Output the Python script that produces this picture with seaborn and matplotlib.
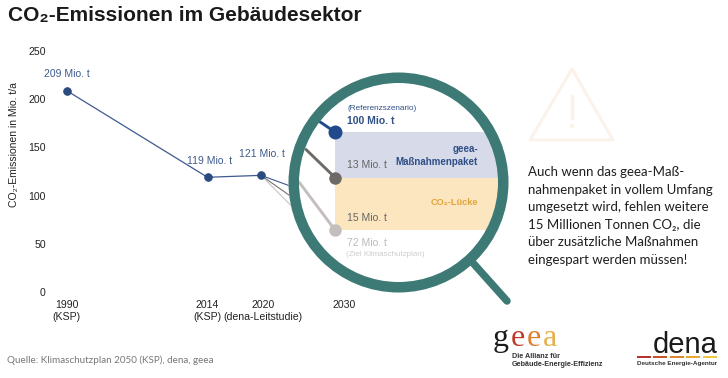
import numpy as np
import pandas as pd
import matplotlib
matplotlib.use("Agg")
import matplotlib.pyplot as plt
from matplotlib.patches import Circle, Polygon, Rectangle
from matplotlib.transforms import ScaledTranslation
import seaborn as sns

# ---- data ----
hist_years = [1990, 2014, 2020]
hist_values = [209, 119, 121]
x_ticks = [1990, 2014, 2020, 2030]
x_labels = ["1990\n(KSP)", "2014\n(KSP)", "2020\n(dena-Leitstudie)", "2030"]
y_ticks = [0, 50, 100, 150, 200, 250]
# thin lines running from 2020 towards the lens
fan_values = [93, 67, 44]
fan_colors = ["#3f5a8e", "#77726e", "#c9c4c0"]
# magnified part
scen_values = [100, 87, 72]
scen_colors = ["#214a8c", "#6e6a66", "#c4bfbc"]
scen_sizes = [14, 12.5, 12.5]
scen_entry_years = [2027.97, 2026.08, 2025.14]
scen_entry_values = [102.9, 95.0, 85.7]
scen_labels = ["100 Mio. t", "13 Mio. t", "15 Mio. t", "72 Mio. t"]
body_lines = ["Auch wenn das geea-Maß-", "nahmenpaket in vollem Umfang", "umgesetzt wird, fehlen weitere",
              "15 Millionen Tonnen CO₂, die", "über zusätzliche Maßnahmen", "eingespart werden müssen!"]
dena_colors = ["#b5352a", "#c8562b", "#e0842f", "#e9a934", "#f0c63f"]
geea_letters = ["g", "e", "e", "a"]
geea_colors = ["#1a1a1a", "#c0392b", "#dd7f2e", "#e3b04a"]

NAVY = "#3f5a8e"
W, H = 728, 378
ARIAL = ["Liberation Sans", "DejaVu Sans"]

sns.set_theme(style="white")
plt.rcParams["font.family"] = ARIAL

fig = plt.figure(figsize=(W / 100, H / 100), dpi=100, facecolor="white")

def rect(l, t, r, b):
    return [l / W, 1 - b / H, (r - l) / W, (b - t) / H]

# piecewise year axis of the original
yr_a = [1987.19, 1990, 2014, 2020, 2030, 2083.11]
px_a = [50, 66.5, 207.5, 261, 335, 728]
fwd = lambda v: np.interp(v, yr_a, px_a)
inv = lambda v: np.interp(v, px_a, yr_a)

ax = fig.add_axes(rect(50, 51, 728, 292), zorder=1)
lens = fig.add_axes(rect(50, 51, 728, 292), zorder=2)
px = fig.add_axes([0, 0, 1, 1], zorder=3)
px.set_xlim(0, W); px.set_ylim(H, 0); px.axis("off")
lens.axis("off")
for a in (ax, lens):
    a.patch.set_alpha(0)
    a.set_xscale("function", functions=(fwd, inv))
    a.set_xlim(yr_a[0], yr_a[-1])

# ---- main axes ----
df = pd.DataFrame({"year": hist_years, "value": hist_values})
sns.lineplot(data=df, x="year", y="value", ax=ax, color=NAVY, lw=0.9, marker="o", ms=5.4,
             mfc="#2a4a80", mec="#2a4a80", errorbar=None, zorder=2)
for v, c in zip(fan_values, fan_colors):
    sns.lineplot(x=[2020, 2030], y=[hist_values[-1], v], ax=ax, color=c, lw=0.8, errorbar=None, zorder=1)
ax.set_ylim(0, 250)
ax.set_xticks(x_ticks, x_labels, fontsize=7.6, color="#222222", linespacing=1.15)
ax.set_yticks(y_ticks, [str(t) for t in y_ticks], fontsize=7.6, color="#222222")
ax.minorticks_off()
ax.tick_params(axis="both", length=0)
ax.tick_params(axis="x", pad=6)
ax.tick_params(axis="y", pad=3)
ax.set_xlabel(""); ax.set_ylabel("")
sns.despine(ax=ax, left=True, bottom=True)
ax.xaxis.get_majorticklabels()[-1].set_transform(
    ax.xaxis.get_majorticklabels()[-1].get_transform() + ScaledTranslation(9 / 100, 0, fig.dpi_scale_trans))
ax.xaxis.get_majorticklabels()[2].set_transform(
    ax.xaxis.get_majorticklabels()[2].get_transform() + ScaledTranslation(2 / 100, 0, fig.dpi_scale_trans))
for yr, v, off in zip(hist_years, hist_values, [(0, 17), (2, 16), (1, 21)]):
    ax.annotate(f"{v} Mio. t", (yr, v), xytext=(off[0] * .72, off[1] * .72), textcoords="offset points",
                ha="center", va="center", fontsize=7.5, color=NAVY)

# ---- lens ----
CX, CY, R_OUT, RING = 398.5, 182.5, 110, 10.5
ax.add_patch(Circle((CX, CY), R_OUT, transform=px.transData, fc="white", ec="none", zorder=5, clip_on=False))
lens.set_ylim(100 - (292 - 132) / 3.5, 100 + (132 - 51) / 3.5)
clip = Circle((CX, CY), R_OUT - RING / 2, transform=px.transData)
span = [2030, yr_a[-1]]
b1 = lens.fill_between(span, scen_values[1], scen_values[0], color="#d6dae9", lw=0, zorder=1)
b2 = lens.fill_between(span, scen_values[2], scen_values[1], color="#fbe6bf", lw=0, zorder=1)
b1.set_clip_path(clip); b2.set_clip_path(clip)
for i in range(3):
    l = lens.plot([scen_entry_years[i], 2030], [scen_entry_values[i], scen_values[i]],
                  color=scen_colors[i], lw=2.1, zorder=2, solid_capstyle="round")[0]
    sns.scatterplot(x=[2030], y=[scen_values[i]], ax=lens, color=scen_colors[i],
                    s=(scen_sizes[i] * .72) ** 2, linewidth=0, zorder=3, legend=False)
lens.set_xlim(yr_a[0], yr_a[-1])

# ring + handle
px.add_patch(Circle((CX, CY), R_OUT - RING / 2, fc="none", ec="#3d7a75", lw=RING * .72))
px.plot([473, 507], [263, 301], color="#3d7a75", lw=5.4, solid_capstyle="round")

# lens texts
def t(x, y, s, size=7.8, color="#666666", ha="left", weight="normal", **kw):
    return px.text(x, y, s, fontsize=size, color=color, ha=ha, va="center", fontweight=weight, **kw)

t(347, 108.5, "(Referenzszenario)", 5.9, "#2f4f86")
t(347, 120.5, scen_labels[0], 7.5, "#2f4f86", weight="bold")
t(347, 165, scen_labels[1], 7.5, "#666666")
t(478, 149, "geea-", 7.0, "#2f4f86", ha="right", weight="bold")
t(478, 162, "Maßnahmenpaket", 7.0, "#2f4f86", ha="right", weight="bold")
t(478, 202.5, "CO₂-Lücke", 6.6, "#e0a53c", ha="right", weight="bold")
t(347, 218, scen_labels[2], 7.5, "#666666")
t(347, 243, scen_labels[3], 7.5, "#bdbab7")
t(346, 254, "(Ziel Klimaschutzplan)", 5.8, "#cfcdca")

# ---- titles and notes ----
t(8, 15, "CO₂-Emissionen im Gebäudesektor", 15, "#1a1a1a", weight="bold")
t(14, 145, "CO₂-Emissionen in Mio. t/a", 7.5, "#222222", rotation=90, rotation_mode="anchor")
px.texts[-1].set_ha("center")
t(7, 360, "Quelle: Klimaschutzplan 2050 (KSP), dena, geea", 7.1, "#777777", family="Lato")
for i, line in enumerate(body_lines):
    t(528, 172 + i * 17.6, line, 9.55, "#1f1f1f", family=["Lato", "DejaVu Sans"])

# warning triangle
px.add_patch(Polygon([(572, 69), (530, 140), (613, 140)], closed=True, fc="none", ec="#fbf2ea", lw=2.2, joinstyle="round"))
px.plot([572, 572], [96, 118], color="#fbf2ea", lw=2.4, solid_capstyle="round")
px.add_patch(Circle((572, 126), 2.2, fc="#fbf2ea", ec="none"))

# logos
gx = 493
for ch, c, adv in zip(geea_letters, geea_colors, [18, 16, 16, 15]):
    px.text(gx, 346, ch, fontsize=23, color=c, family="Liberation Serif", ha="left", va="baseline")
    gx += adv
t(512, 357, "Die Allianz für", 5.2, "#333333", weight="bold")
t(512, 365, "Gebäude-Energie-Effizienz", 5.2, "#333333", weight="bold")
px.text(653, 353, "dena", fontsize=21, color="#1a1a1a", family="Liberation Sans", ha="left", va="baseline")
for i, c in enumerate(dena_colors):
    px.add_patch(Rectangle((637 + i * 16.4, 355.5), 14, 2.8, fc=c, ec="none"))
t(637, 364, "Deutsche Energie-Agentur", 4.6, "#333333", weight="bold")

fig.savefig("out.png", dpi=100)
